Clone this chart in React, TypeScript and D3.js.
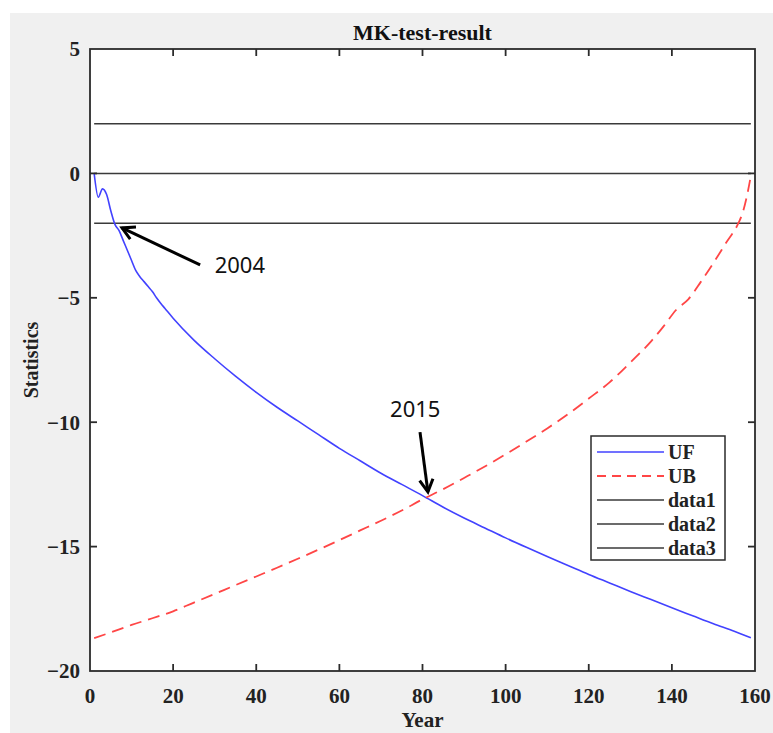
import React from 'react'
import * as d3 from 'd3'

// MK test statistics
const ufYears = [1, 2, 3, 4, 5, 6, 7, 8, 9, 10, 11, 12, 13, 14, 15, 16, 17, 18, 20, 25, 30, 35, 40, 45, 50, 55, 60, 65, 70, 75, 80, 85, 90, 95, 100, 105, 110, 115, 120, 125, 130, 135, 140, 145, 150, 155, 159]
const ufValues = [0, -0.96, -0.62, -0.85, -1.5, -2.05, -2.3, -2.7, -3.1, -3.5, -3.9, -4.15, -4.35, -4.55, -4.75, -5.0, -5.22, -5.42, -5.82, -6.7, -7.45, -8.15, -8.8, -9.4, -9.95, -10.5, -11.05, -11.55, -12.05, -12.5, -12.95, -13.42, -13.85, -14.25, -14.65, -15.03, -15.4, -15.76, -16.12, -16.46, -16.8, -17.13, -17.46, -17.78, -18.1, -18.4, -18.66]

const ubYears = [1, 5, 10, 15, 20, 25, 30, 35, 40, 45, 50, 55, 60, 65, 70, 75, 80, 85, 90, 95, 100, 105, 110, 115, 120, 125, 130, 135, 138, 141, 144, 147, 150, 153, 156, 157, 158, 159]
const ubValues = [-18.68, -18.45, -18.15, -17.88, -17.6, -17.25, -16.9, -16.55, -16.2, -15.85, -15.49, -15.12, -14.74, -14.35, -13.96, -13.55, -13.1, -12.69, -12.24, -11.78, -11.29, -10.78, -10.25, -9.68, -9.05, -8.4, -7.6, -6.75, -6.15, -5.49, -5.05, -4.35, -3.6, -2.8, -2.0, -1.6, -0.95, -0.1]

const refLevels = [2, 0, -2] // data1, data2, data3
const refStart = 1
const refEnd = 159

const xTicks = [0, 20, 40, 60, 80, 100, 120, 140, 160]
const yTicks = [5, 0, -5, -10, -15, -20]

const legendLabels = ['UF', 'UB', 'data1', 'data2', 'data3']

// annotations: [label, text x, text y, tail x, tail y, head x, head y] in data units
const notes: [string, number, number, number, number, number, number][] = [
  ['2004', 30, -4.0, 26.5, -3.68, 7.7, -2.19],
  ['2015', 72.2, -9.8, 79.4, -10.4, 81.3, -12.8],
]

const W = 773
const H = 733
const margin = { left: 90, right: 755, top: 49, bottom: 671 }
const serif = '"Liberation Serif", "Times New Roman", serif'
const axisColor = '#2b2b2b'
const blue = '#4242ff'
const red = '#ff4646'

export default function App() {
  const x = d3.scaleLinear().domain([0, 160]).range([margin.left, margin.right])
  const y = d3.scaleLinear().domain([-20, 5]).range([margin.bottom, margin.top])

  const line = d3.line<[number, number]>()
    .x(d => x(d[0]))
    .y(d => y(d[1]))
    .curve(d3.curveMonotoneX)

  const uf = line(ufYears.map((v, i) => [v, ufValues[i]]))
  const ub = line(ubYears.map((v, i) => [v, ubValues[i]]))

  const legendX = 591
  const legendY = 436
  const rowH = 24

  return (
    <svg width={W} height={H} style={{ position: 'absolute', left: 0, top: 0 }}>
      <rect x={0} y={0} width={W} height={H} fill="#fff" />
      <rect x={10} y={13} width={W - 10} height={H - 13} fill="#f0f0f0" />
      <rect x={margin.left} y={margin.top} width={margin.right - margin.left} height={margin.bottom - margin.top} fill="#fff" />

      {/* reference lines */}
      {refLevels.map(lv => (
        <line key={lv} x1={x(refStart)} x2={x(refEnd)} y1={y(lv)} y2={y(lv)} stroke="#3a3a3a" strokeWidth={1.5} />
      ))}

      <path d={uf ?? ''} fill="none" stroke={blue} strokeWidth={1.6} />
      <path d={ub ?? ''} fill="none" stroke={red} strokeWidth={1.8} strokeDasharray="12 7" />

      {/* axes box */}
      <rect x={margin.left} y={margin.top} width={margin.right - margin.left} height={margin.bottom - margin.top} fill="none" stroke={axisColor} strokeWidth={1.8} />
      {xTicks.slice(1, -1).map(t => (
        <g key={'xt' + t}>
          <line x1={x(t)} x2={x(t)} y1={margin.bottom} y2={margin.bottom - 7} stroke={axisColor} strokeWidth={1.8} />
          <line x1={x(t)} x2={x(t)} y1={margin.top} y2={margin.top + 7} stroke={axisColor} strokeWidth={1.8} />
        </g>
      ))}
      {yTicks.slice(1, -1).map(t => (
        <g key={'yt' + t}>
          <line x1={margin.left} x2={margin.left + 7} y1={y(t)} y2={y(t)} stroke={axisColor} strokeWidth={1.8} />
          <line x1={margin.right} x2={margin.right - 7} y1={y(t)} y2={y(t)} stroke={axisColor} strokeWidth={1.8} />
        </g>
      ))}

      {/* tick labels */}
      {xTicks.map(t => (
        <text key={'xl' + t} x={x(t)} y={703} textAnchor="middle" fontFamily={serif} fontWeight="bold" fontSize={21} fill="#222">{t}</text>
      ))}
      {yTicks.map(t => (
        <text key={'yl' + t} x={80} y={y(t)} dy="0.35em" textAnchor="end" fontFamily={serif} fontWeight="bold" fontSize={21} fill="#222">
          {t < 0 ? '\u2212' + Math.abs(t) : String(t)}
        </text>
      ))}

      <text x={(margin.left + margin.right) / 2} y={40} textAnchor="middle" fontFamily={serif} fontWeight="bold" fontSize={22} fill="#111">MK-test-result</text>
      <text x={(margin.left + margin.right) / 2} y={727} textAnchor="middle" fontFamily={serif} fontWeight="bold" fontSize={21} fill="#222">Year</text>
      <text transform={`translate(38,${(margin.top + margin.bottom) / 2}) rotate(-90)`} textAnchor="middle" fontFamily={serif} fontWeight="bold" fontSize={20} fill="#222">Statistics</text>

      {/* legend */}
      <rect x={legendX} y={legendY} width={134} height={124} fill="#fff" stroke={axisColor} strokeWidth={1.5} />
      {legendLabels.map((lab, i) => {
        const cy = legendY + 16 + i * rowH
        const color = i === 0 ? blue : i === 1 ? red : '#3a3a3a'
        return (
          <g key={lab}>
            <line x1={legendX + 6} x2={legendX + 73} y1={cy} y2={cy} stroke={color} strokeWidth={i === 1 ? 1.8 : 1.5} strokeDasharray={i === 1 ? '9 6' : undefined} />
            <text x={legendX + 77} y={cy} dy="0.35em" fontFamily={serif} fontWeight="bold" fontSize={20} fill="#222">{lab}</text>
          </g>
        )
      })}

      {/* annotations */}
      {notes.map(([lab, tx, ty, x0, y0, x1, y1]) => {
        const px0 = x(x0), py0 = y(y0), px1 = x(x1), py1 = y(y1)
        const ang = Math.atan2(py1 - py0, px1 - px0)
        const hl = 14
        const spread = 0.5
        const a1 = [px1 - hl * Math.cos(ang - spread), py1 - hl * Math.sin(ang - spread)]
        const a2 = [px1 - hl * Math.cos(ang + spread), py1 - hl * Math.sin(ang + spread)]
        return (
          <g key={lab}>
            <line x1={px0} y1={py0} x2={px1} y2={py1} stroke="#000" strokeWidth={3} />
            <polyline points={`${a1[0]},${a1[1]} ${px1},${py1} ${a2[0]},${a2[1]}`} fill="none" stroke="#000" strokeWidth={3} strokeLinejoin="miter" />
            <text x={x(tx)} y={y(ty)} fontFamily='"Noto Sans", "Open Sans", sans-serif' fontSize={22} fill="#111">{lab}</text>
          </g>
        )
      })}
    </svg>
  )
}
